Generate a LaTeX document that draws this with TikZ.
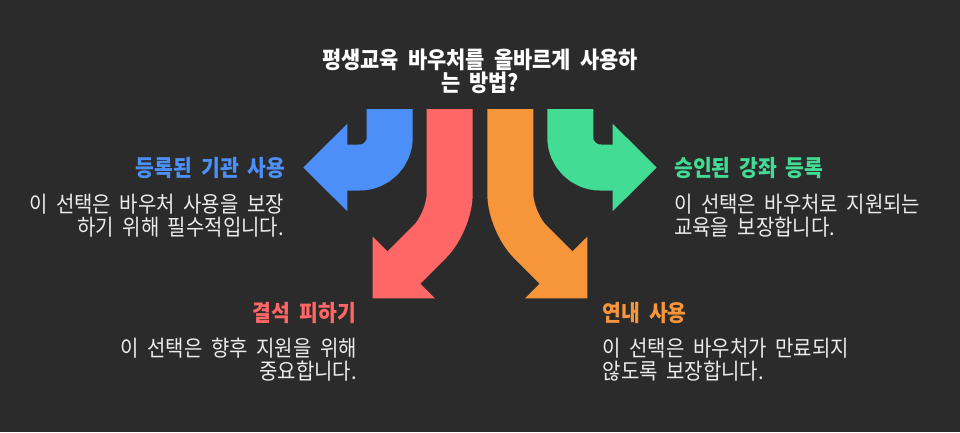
\documentclass[tikz,border=0pt]{standalone}
\usepackage{fontspec}
\newfontfamily\krbody[FakeStretch=0.9,WordSpace=3.1]{Noto Sans CJK KR}
\newfontfamily\krtitle[FakeStretch=0.9,WordSpace=1.9]{Noto Sans CJK KR}
\definecolor{bg}{HTML}{2B2B2B}
\definecolor{cblue}{HTML}{4D8FF9}
\definecolor{cred}{HTML}{FF6666}
\definecolor{corange}{HTML}{F7953B}
\definecolor{cgreen}{HTML}{42DC95}
\definecolor{body}{HTML}{EBEBEB}
\tikzset{
  shaft/.style={line width=46pt, line cap=butt, line join=miter},
  titletext/.style={inner sep=0pt, font=\krtitle\bfseries\fontsize{23.2}{26}\selectfont, text=white},
  labeltext/.style={inner sep=0pt, font=\krbody\bfseries\fontsize{22.7}{26}\selectfont},
  bodytext/.style={inner sep=0pt, font=\krbody\fontsize{22.2}{26}\selectfont, text=body},
}
\begin{document}
\begin{tikzpicture}[x=1pt,y=-1pt]
\fill[bg] (0,0) rectangle (960,432);
\useasboundingbox (0,0) rectangle (960,432);
% blue arrow
\coordinate (bs) at (389.7,109);
\coordinate (bc) at (389.7,167.5);
\coordinate (be) at (346,167.5);
\draw[shaft, cblue, rounded corners=30pt] (bs) -- (bc) -- (be);
\fill[cblue] (347.3,123.8) coordinate (bh1) -- (303.3,167.5) coordinate (bt) -- (347.3,211.2) coordinate (bh2) -- cycle;
% green arrow
\coordinate (gs) at (570.3,109);
\coordinate (gc) at (570.3,167.5);
\coordinate (ge) at (614,167.5);
\draw[shaft, cgreen, rounded corners=30pt] (gs) -- (gc) -- (ge);
\fill[cgreen] (612.7,123.8) coordinate (gh1) -- (656.7,167.5) coordinate (gt) -- (612.7,211.2) coordinate (gh2) -- cycle;
% red arrow
\coordinate (rs) at (449.7,109);
\coordinate (rc) at (449.7,221.8);
\coordinate (re) at (402,269.5);
\draw[shaft, cred, rounded corners=28pt] (rs) -- (rc) -- (re);
\fill[cred] (372.7,236.7) coordinate (rh1) -- (372.7,298.3) coordinate (rt) -- (435,298.3) coordinate (rh2) -- cycle;
% orange arrow
\coordinate (os) at (510.3,109);
\coordinate (oc) at (510.3,221.8);
\coordinate (oe) at (558,269.5);
\draw[shaft, corange, rounded corners=28pt] (os) -- (oc) -- (oe);
\fill[corange] (587.3,236.7) coordinate (oh1) -- (587.3,298.3) coordinate (ot) -- (525,298.3) coordinate (oh2) -- cycle;
% title
\node[titletext, anchor=base] (title1) at (480,68.4) {평생교육 바우처를 올바르게 사용하};
\node[titletext, anchor=base] (title2) at (480,91.9) {는 방법?};
% blue texts
\node[labeltext, text=cblue, anchor=base east] (bl) at (285.5,176.6) {등록된 기관 사용};
\node[bodytext, anchor=base east] (bb1) at (284,212) {이 선택은 바우처 사용을 보장};
\node[bodytext, anchor=base east] (bb2) at (284,235.3) {하기 위해 필수적입니다.};
% green texts
\node[labeltext, text=cgreen, anchor=base west] (gl) at (674,176.6) {승인된 강좌 등록};
\node[bodytext, anchor=base west] (gb1) at (674,212) {이 선택은 바우처로 지원되는};
\node[bodytext, anchor=base west] (gb2) at (674,235.3) {교육을 보장합니다.};
% red texts
\node[labeltext, text=cred, anchor=base east] (rl) at (356,321) {결석 피하기};
\node[bodytext, anchor=base east] (rb1) at (357,356) {이 선택은 향후 지원을 위해};
\node[bodytext, anchor=base east] (rb2) at (357,379.5) {중요합니다.};
% orange texts
\node[labeltext, text=corange, anchor=base west] (ol) at (602.5,321) {연내 사용};
\node[bodytext, anchor=base west] (ob1) at (602.5,356) {이 선택은 바우처가 만료되지};
\node[bodytext, anchor=base west] (ob2) at (602.5,379.5) {않도록 보장합니다.};
\end{tikzpicture}
\end{document}
